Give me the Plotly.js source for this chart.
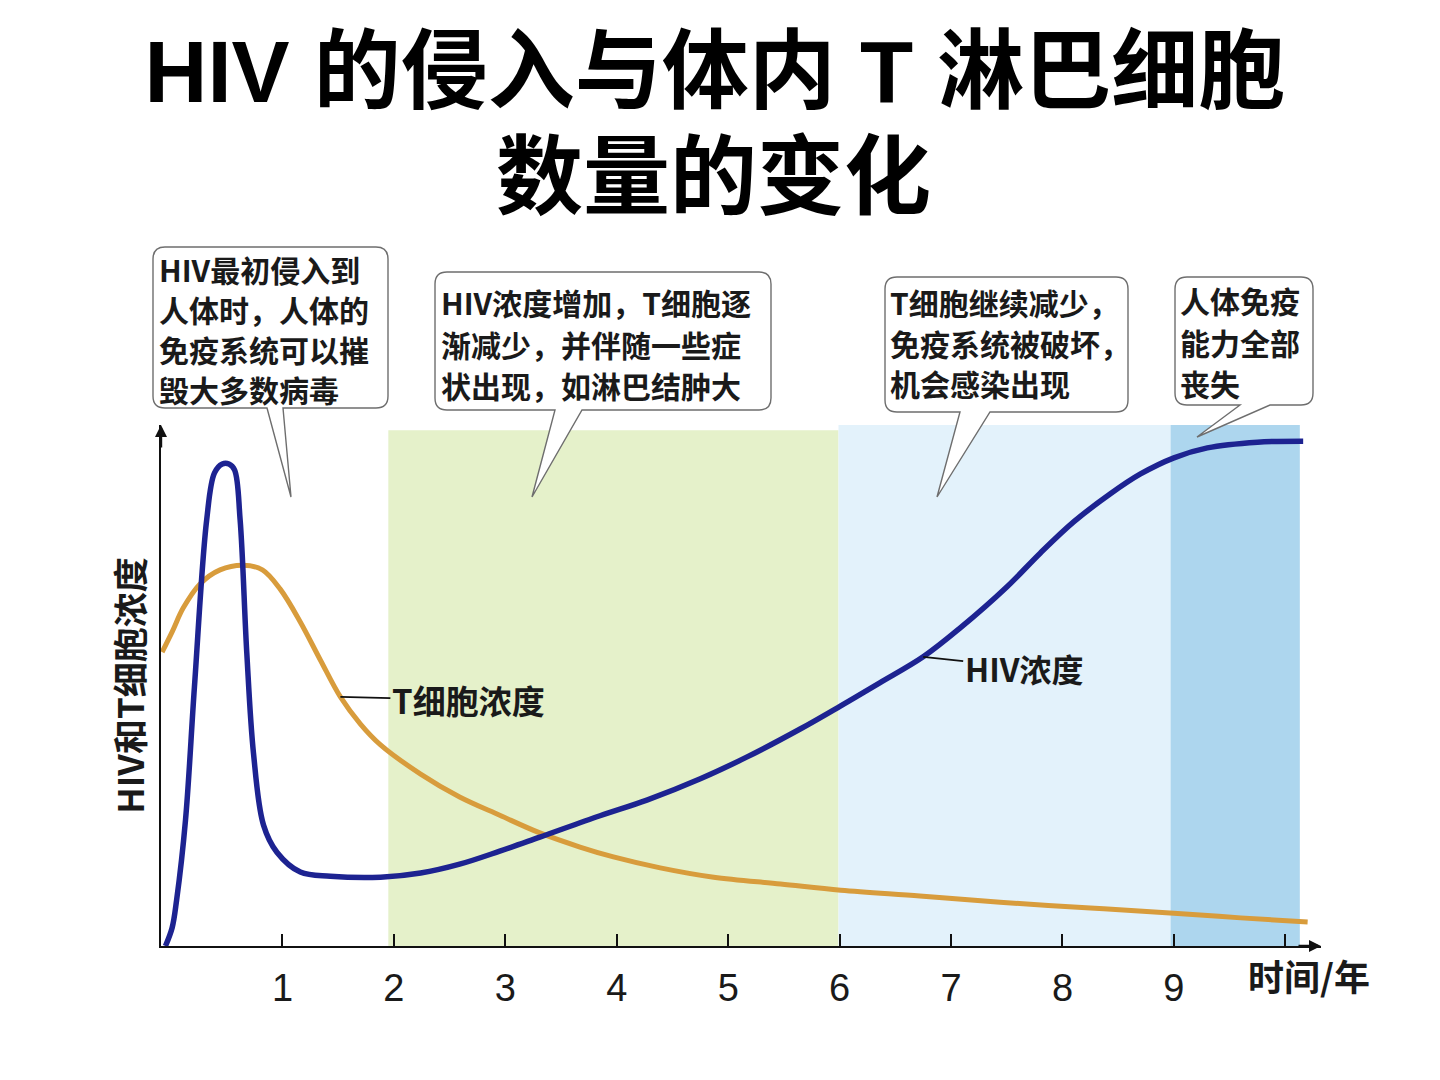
<!DOCTYPE html>
<html>
<head>
<meta charset="utf-8">
<script src="https://cdn.plot.ly/plotly-3.0.1.min.js"></script>
<style>
  html, body { margin: 0; padding: 0; background: #ffffff; }
  #chart { width: 1440px; height: 1080px; }
</style>
</head>
<body>
<div id="chart"></div>
<script>
// HIV concentration over time (years, relative level)
const hivYears = [-0.05, 0.01, 0.05, 0.13, 0.21, 0.32, 0.39, 0.46, 0.52, 0.57, 0.62, 0.68, 0.74, 0.83, 0.95,
  1.16, 1.43, 1.88, 2.24, 2.59, 2.95, 3.31, 3.85, 4.27, 4.75, 5.17, 5.65, 6.01, 6.36, 6.75, 7.08, 7.50,
  7.80, 8.10, 8.43, 8.70, 9.00, 9.30, 9.75, 10.16];
const hivLevel = [0, 3.5, 8.8, 24.2, 49.7, 81.8, 90.8, 92.5, 92.5, 91.4, 81.8, 56.2, 37.0, 23.2, 18.0,
  14.2, 13.4, 13.2, 14.0, 15.7, 18.2, 20.9, 25.0, 28.0, 32.1, 36.3, 41.7, 46.1, 50.5, 55.5, 61.0, 68.9,
  75.4, 81.4, 86.8, 90.6, 93.7, 95.6, 96.7, 96.9];

// T lymphocyte concentration over time
const tYears = [-0.08, 0.01, 0.11, 0.26, 0.44, 0.65, 0.82, 0.98, 1.16, 1.34, 1.52, 1.70, 1.88, 2.24, 2.59,
  2.95, 3.31, 3.67, 3.97, 4.39, 4.87, 5.47, 6.01, 6.72, 7.44, 8.25, 9.00, 9.60, 10.20];
const tLevel = [56.4, 60.3, 64.9, 69.5, 72.2, 73.1, 72.2, 68.5, 62.2, 54.9, 47.8, 42.6, 38.6, 33.0, 28.6,
  25.1, 21.7, 19.0, 17.1, 15.0, 13.2, 11.9, 10.7, 9.6, 8.4, 7.3, 6.3, 5.4, 4.6];

// Stage boundaries (years) and x-axis ticks
const stageBounds = [1.95, 5.99, 8.97, 10.13];
const stageColors = ['#e5f1ca', '#e3f2fb', '#add6ee'];
const tickYears = [1, 2, 3, 4, 5, 6, 7, 8, 9, 10];
const tickLabels = ['1', '2', '3', '4', '5', '6', '7', '8', '9', ''];

// Stage descriptions, one entry per line
const calloutLines = [
  ['HIV最初侵入到', '人体时，人体的', '免疫系统可以摧', '毁大多数病毒'],
  ['HIV浓度增加，T细胞逐', '渐减少，并伴随一些症', '状出现，如淋巴结肿大'],
  ['T细胞继续减少，', '免疫系统被破坏，', '机会感染出现'],
  ['人体免疫', '能力全部', '丧失']
];

const CJK = '"Noto Sans CJK SC", "Noto Sans", sans-serif';
const W = 1440, H = 1080;
const M = { l: 161, r: 119, t: 425, b: 134 };
const PW = W - M.l - M.r, PH = H - M.t - M.b;
const px = v => (v - M.l) / PW;
const py = v => (H - M.b - v) / PH;

// Speech-bubble geometry in page pixels: box, pointer base, tip, first text line
const bubbles = [
  { box: [153, 247, 388, 408], base: [267, 283], tip: [291, 497], text: [157, 269], gap: 40 },
  { box: [435, 272, 771, 410], base: [555, 582], tip: [532, 497], text: [439, 302], gap: 41.5 },
  { box: [885, 277, 1128, 412], base: [960, 990], tip: [937, 497], text: [888, 302], gap: 40.5 },
  { box: [1175, 277, 1313, 405], base: [1240, 1270], tip: [1197, 437], text: [1178, 300], gap: 41.5 }
];

function bubblePath(b) {
  const [x0, y0, x1, y1] = b.box, r = 12;
  const p = (x, y) => px(x).toFixed(5) + ',' + py(y).toFixed(5);
  return 'M' + p(x0 + r, y0) + ' L' + p(x1 - r, y0) + ' Q' + p(x1, y0) + ' ' + p(x1, y0 + r) +
    ' L' + p(x1, y1 - r) + ' Q' + p(x1, y1) + ' ' + p(x1 - r, y1) +
    ' L' + p(b.base[1], y1) + ' L' + p(b.tip[0], b.tip[1]) + ' L' + p(b.base[0], y1) +
    ' L' + p(x0 + r, y1) + ' Q' + p(x0, y1) + ' ' + p(x0, y1 - r) +
    ' L' + p(x0, y0 + r) + ' Q' + p(x0, y0) + ' ' + p(x0 + r, y0) + ' Z';
}

const shapes = [];
for (let i = 0; i < stageColors.length; i++) {
  shapes.push({
    type: 'rect', xref: 'x', yref: 'y', layer: 'below',
    x0: stageBounds[i], x1: stageBounds[i + 1], y0: 0, y1: i === 0 ? 99 : 100,
    fillcolor: stageColors[i], line: { width: 0 }
  });
}
bubbles.forEach(b => shapes.push({
  type: 'path', xref: 'paper', yref: 'paper', layer: 'above',
  path: bubblePath(b), fillcolor: '#ffffff', line: { color: '#6e6e6e', width: 1.4 }
}));

const annotations = [];
bubbles.forEach((b, i) => calloutLines[i].forEach((line, k) => annotations.push({
  xref: 'paper', yref: 'paper', x: px(b.text[0]), y: py(b.text[1] + k * b.gap),
  xanchor: 'left', yanchor: 'middle', align: 'left', showarrow: false,
  text: line, font: { family: CJK, size: 30, color: '#1a1a1a', weight: 'bold' }
})));

// Second title line
annotations.push({ xref: 'paper', yref: 'paper', x: px(713), y: py(178), xanchor: 'center', yanchor: 'middle',
  showarrow: false, text: '数量的变化',
  font: { family: '"Liberation Sans", ' + CJK, size: 87, color: '#000', weight: 'bold' } });

// Axis arrowheads
annotations.push({ x: 10.32, y: 0, xref: 'x', yref: 'y', ax: -24, ay: 0, text: '', showarrow: true,
  arrowhead: 2, arrowsize: 1, arrowwidth: 2.4, arrowcolor: '#111' });
annotations.push({ x: -0.09, y: 100, xref: 'x', yref: 'y', ax: 0, ay: 24, text: '', showarrow: true,
  arrowhead: 2, arrowsize: 1, arrowwidth: 2.4, arrowcolor: '#111' });

// Curve labels with leader lines
annotations.push({ x: tYears[10], y: tLevel[10], xref: 'x', yref: 'y', ax: 128, ay: 3,
  text: 'T细胞浓度', showarrow: true, arrowhead: 0, arrowwidth: 1.8, arrowcolor: '#111', standoff: 0,
  font: { family: CJK, size: 33, color: '#1a1a1a', weight: 'bold' } });
annotations.push({ x: hivYears[29], y: hivLevel[29], xref: 'x', yref: 'y', ax: 101, ay: 11,
  text: 'HIV浓度', showarrow: true, arrowhead: 0, arrowwidth: 1.8, arrowcolor: '#111', standoff: 0,
  font: { family: CJK, size: 32, color: '#1a1a1a', weight: 'bold' } });

// Time axis caption
annotations.push({ xref: 'paper', yref: 'paper', x: px(1309), y: py(975), xanchor: 'center', yanchor: 'middle',
  showarrow: false, text: '时间/年', font: { family: CJK, size: 36, color: '#1a1a1a', weight: 'bold' } });

const traces = [
  { x: tYears, y: tLevel, mode: 'lines', name: 'T细胞浓度',
    line: { color: '#d89c3c', width: 5, shape: 'spline', smoothing: 1.0 }, hoverinfo: 'skip' },
  { x: hivYears, y: hivLevel, mode: 'lines', name: 'HIV浓度',
    line: { color: '#1d2391', width: 5.5, shape: 'spline', smoothing: 1.0 }, hoverinfo: 'skip' }
];

const layout = {
  width: W, height: H,
  margin: M,
  paper_bgcolor: '#ffffff', plot_bgcolor: 'rgba(0,0,0,0)',
  showlegend: false,
  title: {
    text: 'HIV 的侵入与体内 T 淋巴细胞',
    font: { family: '"Liberation Sans", ' + CJK, size: 87, color: '#000', weight: 'bold' },
    xref: 'container', yref: 'container', x: 0.4965, xanchor: 'center', y: 1 - 72 / 1080, yanchor: 'middle'
  },
  xaxis: {
    range: [-0.09, 10.32], showgrid: false, zeroline: false,
    showline: true, linecolor: '#111', linewidth: 2.4,
    tickmode: 'array', tickvals: tickYears, ticktext: tickLabels,
    ticks: 'inside', ticklen: 12, tickwidth: 2, tickcolor: '#111',
    ticklabelstandoff: 7,
    tickfont: { family: '"Liberation Sans Narrow", "Liberation Sans", Arial, sans-serif', size: 38, color: '#1a1a1a' }
  },
  yaxis: {
    range: [0, 100], showgrid: false, zeroline: false,
    showline: true, linecolor: '#111', linewidth: 2.4,
    showticklabels: false, ticks: '',
    title: { text: 'HIV和T细胞浓度', standoff: 4,
      font: { family: CJK, size: 35, color: '#1a1a1a', weight: 'bold' } }
  },
  shapes: shapes,
  annotations: annotations
};

Plotly.newPlot('chart', traces, layout, { staticPlot: true, displayModeBar: false });
</script>
</body>
</html>
